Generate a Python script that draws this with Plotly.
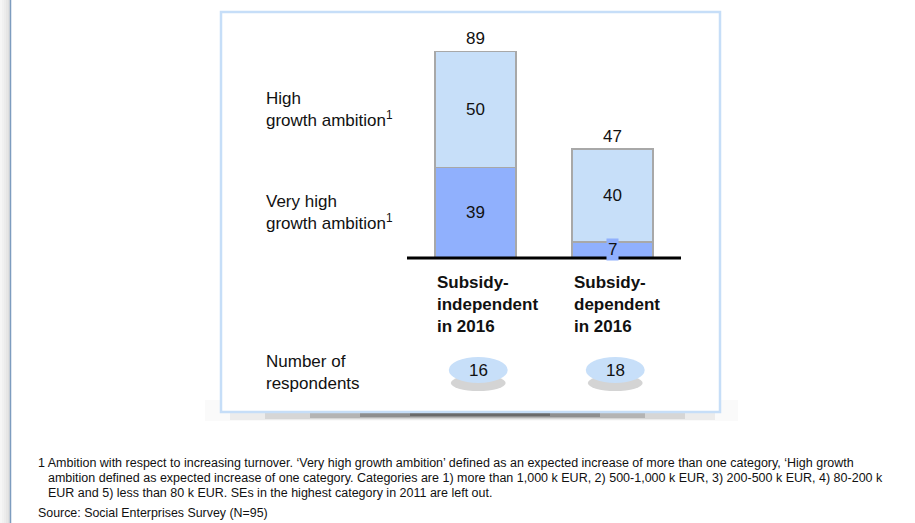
import plotly.graph_objects as go

# ---- data -------------------------------------------------------------
categories = ["Subsidy-<br>independent<br>in 2016", "Subsidy-<br>dependent<br>in 2016"]
very_high = [39, 7]          # very high growth ambition (%)
high = [50, 40]              # high growth ambition (%)
respondents = [16, 18]

segment_labels = ["Very high<br>growth ambition<sup>1</sup>",
                  "High<br>growth ambition<sup>1</sup>"]
resp_label = "Number of<br>respondents"
footnote_lines = [
    "1 Ambition with respect to increasing turnover. \u2018Very high growth ambition\u2019 defined as an expected increase of more than one category, \u2018High growth",
    "ambition defined as expected increase of one category. Categories are 1) more than 1,000 k EUR, 2) 500-1,000 k EUR, 3) 200-500 k EUR, 4) 80-200 k",
    "EUR and 5) less than 80 k EUR. SEs in the highest category in 2011 are left out.",
]
source_text = "Source: Social Enterprises Survey (N=95)"

# ---- page geometry ----------------------------------------------------
W, H = 915, 523
FONT = "Liberation Sans, Arial, sans-serif"
DARK = "#90b0fd"
LIGHT = "#c7dff9"
EDGE = "#a8a8a8"
PANEL = "#c6def8"
INK = "#111111"

# axis scaling: one category step = 137 px, first bar centred at 475.5 px,
# baseline 258 px from the top, 2.318 px per percentage point
STEP = 137.0
X0_PX = 475.5
BASE_PX = 258.0
PPU = 2.318
x_range = [-X0_PX / STEP, (W - X0_PX) / STEP]
y_range = [-(H - BASE_PX) / PPU, BASE_PX / PPU]
BAR_W = 81 / STEP


def px(x):
    return x / W


def py(y):
    return 1 - y / H


def txt(size=17):
    return dict(size=size, color=INK, family=FONT)


x_pos = list(range(len(categories)))
totals = [a + b for a, b in zip(very_high, high)]

fig = go.Figure()
fig.add_trace(go.Bar(x=x_pos, y=very_high, width=BAR_W,
                     marker=dict(color=DARK, line=dict(color=EDGE, width=1.5)), hoverinfo="skip"))
fig.add_trace(go.Bar(x=x_pos, y=high, width=BAR_W,
                     marker=dict(color=LIGHT, line=dict(color=EDGE, width=1.5)), hoverinfo="skip"))

shapes = []
annotations = []

# left page edge with soft shadow
for i, c in enumerate(["#f6f6f6", "#f1f1f1", "#ececec", "#e6e6e6", "#dfdfdf"]):
    shapes.append(dict(type="rect", xref="paper", yref="paper", x0=px(i * 2), x1=px(i * 2 + 2), y0=0, y1=1,
                       fillcolor=c, line=dict(width=0), layer="below"))
shapes.append(dict(type="line", xref="paper", yref="paper", x0=px(10.5), x1=px(10.5), y0=0, y1=1,
                   line=dict(color="#7d9cbf", width=1.5), layer="below"))

# soft halo and drop shadow under the panel
shapes.append(dict(type="rect", xref="paper", yref="paper", x0=px(205), x1=px(738), y0=py(421), y1=py(400),
                   fillcolor="#fafafa", line=dict(width=0), layer="below"))
for x0, x1, y1, col in [(230, 715, 420, "#ececec"), (265, 685, 419, "#d6d6d6"), (310, 645, 418, "#b4b4b4"),
                        (360, 600, 417, "#8e8e8e"), (410, 550, 416, "#6a6a6a")]:
    shapes.append(dict(type="rect", xref="paper", yref="paper", x0=px(x0), x1=px(x1), y0=py(y1), y1=py(413),
                       fillcolor=col, line=dict(width=0), layer="below"))

# panel frame
shapes.append(dict(type="rect", xref="paper", yref="paper", x0=px(221), x1=px(720), y0=py(412), y1=py(12),
                   fillcolor="white", line=dict(color=PANEL, width=2.5), layer="below"))

# baseline
shapes.append(dict(type="line", xref="x", yref="y", x0=-0.5, x1=1.5, y0=0, y1=0,
                   line=dict(color="black", width=3)))

# segment and total labels
for i in x_pos:
    annotations.append(dict(x=i, y=very_high[i] / 2, xref="x", yref="y", text=str(very_high[i]),
                            showarrow=False, font=txt(), yanchor="middle",
                            bgcolor=DARK if very_high[i] < 10 else None, borderpad=1))
    annotations.append(dict(x=i, y=very_high[i] + high[i] / 2, xref="x", yref="y", text=str(high[i]),
                            showarrow=False, font=txt(), yanchor="middle"))
    annotations.append(dict(x=i, y=totals[i], xref="x", yref="y", text=str(totals[i]), yshift=13,
                            showarrow=False, font=txt(), yanchor="middle"))
    annotations.append(dict(x=i - BAR_W / 2, y=py(304), xref="x", yref="paper", text="<b>%s</b>" % categories[i],
                            xanchor="left", yanchor="middle", align="left", showarrow=False, font=txt()))
    # respondent bubbles
    cx = i + 0.02
    shapes.append(dict(type="circle", xref="x", yref="paper", x0=cx - 0.2, x1=cx + 0.2, y0=py(391), y1=py(375),
                       fillcolor="#a0a0a0", opacity=0.45, line=dict(width=0)))
    shapes.append(dict(type="circle", xref="x", yref="paper", x0=cx - 0.215, x1=cx + 0.215, y0=py(383), y1=py(357),
                       fillcolor=LIGHT, line=dict(width=0)))
    annotations.append(dict(x=cx, y=py(370), xref="x", yref="paper", text=str(respondents[i]),
                            xanchor="center", yanchor="middle", showarrow=False, font=txt()))

# segment legend labels beside the first bar
annotations.append(dict(x=px(264), y=very_high[0] / 2, xref="paper", yref="y", text=segment_labels[0],
                        xanchor="left", yanchor="middle", align="left", showarrow=False, font=txt()))
annotations.append(dict(x=px(264), y=very_high[0] + high[0] / 2, xref="paper", yref="y", text=segment_labels[1],
                        xanchor="left", yanchor="middle", align="left", showarrow=False, font=txt()))
annotations.append(dict(x=px(264), y=py(372), xref="paper", yref="paper", text=resp_label,
                        xanchor="left", yanchor="middle", align="left", showarrow=False, font=txt()))

# footnote and source
for k, line in enumerate(footnote_lines):
    annotations.append(dict(x=px(36 if k == 0 else 46), y=py(463 + 15 * k), xref="paper", yref="paper", text=line,
                            xanchor="left", yanchor="middle", showarrow=False, font=txt(12.5)))
annotations.append(dict(x=px(36), y=py(513), xref="paper", yref="paper", text=source_text,
                        xanchor="left", yanchor="middle", showarrow=False, font=txt(12.4)))

fig.update_layout(
    width=W, height=H, margin=dict(l=0, r=0, t=0, b=0, pad=0),
    barmode="stack", showlegend=False,
    paper_bgcolor="white", plot_bgcolor="rgba(0,0,0,0)",
    xaxis=dict(range=x_range, visible=False, fixedrange=True),
    yaxis=dict(range=y_range, visible=False, fixedrange=True),
    shapes=shapes, annotations=annotations,
)

fig.write_html("out.html", config={"displayModeBar": False})
